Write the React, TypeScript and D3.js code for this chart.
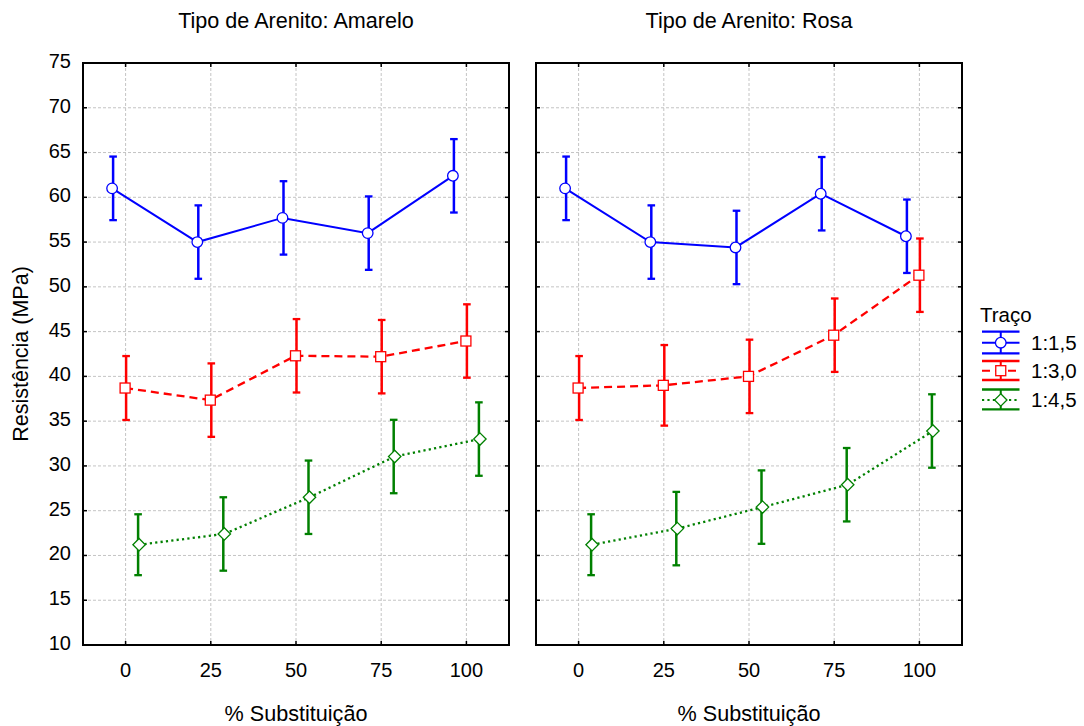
import React from "react";
import * as d3 from "d3";

const categories = ["0", "25", "50", "75", "100"];
const panelTitles = ["Tipo de Arenito: Amarelo", "Tipo de Arenito: Rosa"];
const seriesNames = ["1:1,5", "1:3,0", "1:4,5"];
const yTicks = [10, 15, 20, 25, 30, 35, 40, 45, 50, 55, 60, 65, 70, 75];

// Amarelo panel
const amareloMean15 = [61.0, 55.0, 57.7, 56.0, 62.4];
const amareloErr15 = [3.55, 4.1, 4.1, 4.1, 4.1];
const amareloMean30 = [38.7, 37.35, 42.3, 42.2, 43.95];
const amareloErr30 = [3.57, 4.1, 4.1, 4.1, 4.1];
const amareloMean45 = [21.2, 22.4, 26.5, 31.05, 33.0];
const amareloErr45 = [3.4, 4.1, 4.1, 4.1, 4.1];

// Rosa panel
const rosaMean15 = [61.0, 55.0, 54.4, 60.4, 55.65];
const rosaErr15 = [3.55, 4.1, 4.1, 4.1, 4.1];
const rosaMean30 = [38.7, 39.0, 40.0, 44.6, 51.3];
const rosaErr30 = [3.57, 4.5, 4.1, 4.1, 4.1];
const rosaMean45 = [21.2, 23.0, 25.4, 27.9, 33.9];
const rosaErr45 = [3.4, 4.1, 4.1, 4.1, 4.1];

const panelData = [
  [
    { mean: amareloMean15, err: amareloErr15 },
    { mean: amareloMean30, err: amareloErr30 },
    { mean: amareloMean45, err: amareloErr45 },
  ],
  [
    { mean: rosaMean15, err: rosaErr15 },
    { mean: rosaMean30, err: rosaErr30 },
    { mean: rosaMean45, err: rosaErr45 },
  ],
];

const colors = ["#0000FF", "#FF0000", "#008000"];
const dashes = ["none", "8,5", "2.2,3.2"];
const markerOffset = [-13.5, -0.5, 13.5];
const barOffset = [-12.5, 0.5, 12.5];
const FONT = "'Liberation Sans', Arial, sans-serif";

const W = 1084;
const H = 726;
const panelX: [number, number][] = [
  [83, 509],
  [536, 962],
];
const yTop = 63;
const yBot = 645;

function Marker({ type, x, y, color }: { type: number; x: number; y: number; color: string }) {
  if (type === 0) {
    return <circle cx={x} cy={y} r={5.3} fill="#fff" stroke={color} strokeWidth={1.3} />;
  }
  if (type === 1) {
    return <rect x={x - 5} y={y - 5} width={10} height={10} fill="#fff" stroke={color} strokeWidth={1.3} />;
  }
  const s = 6.2;
  return (
    <path
      d={`M${x},${y - s}L${x + s},${y}L${x},${y + s}L${x - s},${y}Z`}
      fill="#fff"
      stroke={color}
      strokeWidth={1.3}
    />
  );
}

function Panel({ idx }: { idx: number }) {
  const [x0, x1] = panelX[idx];
  const x = d3.scaleBand<string>().domain(categories).range([x0, x1]).paddingInner(0).paddingOuter(0);
  const y = d3.scaleLinear().domain([10, 75]).range([yBot, yTop]);
  const bw = x.bandwidth();
  const cx = (c: string) => (x(c) as number) + bw / 2;
  const data = panelData[idx];
  const gridTicks = yTicks.filter((t) => t !== 10 && t !== 75);

  return (
    <g>
      {/* grid */}
      {gridTicks.map((t) => (
        <line key={"gy" + t} x1={x0} x2={x1} y1={y(t)} y2={y(t)} stroke="#c4c4c4" strokeWidth={1} strokeDasharray="3,2" />
      ))}
      {categories.map((c) => (
        <line key={"gx" + c} x1={cx(c)} x2={cx(c)} y1={yTop} y2={yBot} stroke="#c4c4c4" strokeWidth={1} strokeDasharray="3,2" />
      ))}
      {/* ticks */}
      {gridTicks.map((t) => (
        <g key={"ty" + t}>
          <line x1={x0} x2={x0 + 4} y1={y(t)} y2={y(t)} stroke="#000" strokeWidth={1.5} />
          <line x1={x1 - 4} x2={x1} y1={y(t)} y2={y(t)} stroke="#000" strokeWidth={1.5} />
        </g>
      ))}
      {categories.map((c) => (
        <g key={"tx" + c}>
          <line x1={cx(c)} x2={cx(c)} y1={yTop} y2={yTop + 4} stroke="#000" strokeWidth={1.5} />
          <line x1={cx(c)} x2={cx(c)} y1={yBot - 4} y2={yBot} stroke="#000" strokeWidth={1.5} />
        </g>
      ))}
      {/* series */}
      {data.map((s, si) => {
        const line = d3
          .line<number>()
          .x((_, i) => cx(categories[i]) + markerOffset[si])
          .y((v) => y(v));
        return (
          <g key={"s" + si}>
            <path
              d={line(s.mean) || ""}
              fill="none"
              stroke={colors[si]}
              strokeWidth={si === 0 ? 2 : 2.3}
              strokeDasharray={dashes[si]}
            />
            {s.mean.map((m, i) => {
              const bx = cx(categories[i]) + barOffset[si];
              const yu = y(m + s.err[i]);
              const yl = y(m - s.err[i]);
              return (
                <g key={"e" + i}>
                  <line x1={bx} x2={bx} y1={yu} y2={yl} stroke={colors[si]} strokeWidth={2.5} />
                  <line x1={bx - 3.8} x2={bx + 3.8} y1={yu} y2={yu} stroke={colors[si]} strokeWidth={2.3} />
                  <line x1={bx - 3.8} x2={bx + 3.8} y1={yl} y2={yl} stroke={colors[si]} strokeWidth={2.3} />
                </g>
              );
            })}
            {s.mean.map((m, i) => (
              <Marker key={"m" + i} type={si} x={cx(categories[i]) + markerOffset[si]} y={y(m)} color={colors[si]} />
            ))}
          </g>
        );
      })}
      {/* frame */}
      <rect x={x0} y={yTop} width={x1 - x0} height={yBot - yTop} fill="none" stroke="#000" strokeWidth={2} />
      {/* x tick labels */}
      {categories.map((c) => (
        <text key={"xl" + c} x={cx(c)} y={677} textAnchor="middle" fontSize={20} fontFamily={FONT} fill="#000">
          {c}
        </text>
      ))}
      {/* titles */}
      <text x={(x0 + x1) / 2} y={28} textAnchor="middle" fontSize={21.6} fontFamily={FONT} fill="#000">
        {panelTitles[idx]}
      </text>
      <text x={(x0 + x1) / 2} y={721} textAnchor="middle" fontSize={21.6} fontFamily={FONT} fill="#000">
        % Substituição
      </text>
    </g>
  );
}

export default function App() {
  const y = d3.scaleLinear().domain([10, 75]).range([yBot, yTop]);
  const legendTop = [331.7, 361, 389.5];
  const legendMid = [342.7, 370.7, 400];
  const legendBot = [353.3, 380, 409.3];
  const lx0 = 982;
  const lx1 = 1019.5;
  const lcx = (lx0 + lx1) / 2;
  return (
    <svg
      width={W}
      height={H}
      style={{ position: "absolute", left: 0, top: 0, background: "#fff" }}
      xmlns="http://www.w3.org/2000/svg"
    >
      <rect x={0} y={0} width={W} height={H} fill="#fff" />
      {yTicks.map((t) => (
        <text key={"yl" + t} x={71} y={y(t) + 5} textAnchor="end" fontSize={20} fontFamily={FONT} fill="#000">
          {t}
        </text>
      ))}
      <text
        transform={`translate(28,${(yTop + yBot) / 2}) rotate(-90)`}
        textAnchor="middle"
        fontSize={21.5}
        fontFamily={FONT}
        fill="#000"
      >
        Resistência (MPa)
      </text>
      <Panel idx={0} />
      <Panel idx={1} />
      {/* legend */}
      <text x={980} y={322} fontSize={20.5} fontFamily={FONT} fill="#000">
        Traço
      </text>
      {seriesNames.map((n, i) => (
        <g key={"lg" + i}>
          <line x1={lx0} x2={lx1} y1={legendTop[i]} y2={legendTop[i]} stroke={colors[i]} strokeWidth={2.3} />
          <line x1={lx0} x2={lx1} y1={legendBot[i]} y2={legendBot[i]} stroke={colors[i]} strokeWidth={2.3} />
          <line x1={lcx} x2={lcx} y1={legendTop[i]} y2={legendBot[i]} stroke={colors[i]} strokeWidth={2} />
          <line
            x1={lx0}
            x2={lx1}
            y1={legendMid[i]}
            y2={legendMid[i]}
            stroke={colors[i]}
            strokeWidth={2}
            strokeDasharray={dashes[i]}
          />
          <Marker type={i} x={lcx} y={legendMid[i]} color={colors[i]} />
          <text x={1031} y={legendMid[i] + 7} fontSize={20.5} fontFamily={FONT} fill="#000">
            {n}
          </text>
        </g>
      ))}
    </svg>
  );
}
